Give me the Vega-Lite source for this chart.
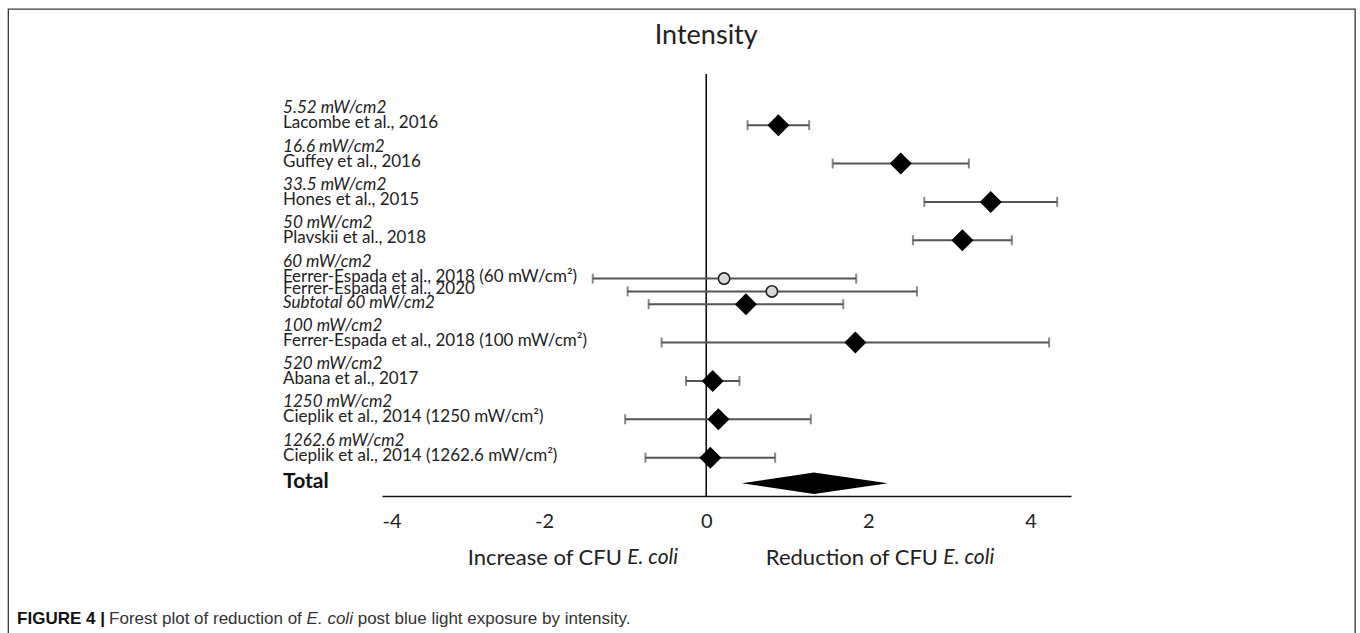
{
  "$schema": "https://vega.github.io/schema/vega-lite/v6.json",
  "width": 689,
  "height": 422,
  "autosize": {"type": "none"},
  "padding": {"left": 382, "top": 74, "right": 289, "bottom": 137},
  "background": "white",
  "config": {
    "view": {"stroke": null},
    "axisY": {"disable": true},
    "axisX": {"domainColor": "#111", "domainWidth": 1.6, "ticks": false, "grid": false, "labelFont": "Lato", "labelFontSize": 20, "labelColor": "#222", "labelPadding": 15, "title": null}
  },
  "datasets": {
    "studies": [
      {"row": 0, "heading": "5.52 mW/cm2", "study": "Lacombe et al., 2016", "est": 0.89, "lo": 0.51, "hi": 1.27, "kind": "group"},
      {"row": 3, "heading": "16.6 mW/cm2", "study": "Guffey et al., 2016", "est": 2.40, "lo": 1.56, "hi": 3.24, "kind": "group"},
      {"row": 6, "heading": "33.5 mW/cm2", "study": "Hones et al., 2015", "est": 3.51, "lo": 2.69, "hi": 4.33, "kind": "group"},
      {"row": 9, "heading": "50 mW/cm2", "study": "Plavskii et al., 2018", "est": 3.16, "lo": 2.55, "hi": 3.77, "kind": "group"},
      {"row": 12, "heading": "60 mW/cm2", "study": "Ferrer-Espada et al., 2018 (60 mW/cm²)", "est": 0.22, "lo": -1.40, "hi": 1.85, "kind": "study"},
      {"row": 13, "heading": "", "study": "Ferrer-Espada et al., 2020", "est": 0.81, "lo": -0.97, "hi": 2.60, "kind": "study"},
      {"row": 14, "heading": "", "study": "Subtotal 60 mW/cm2", "est": 0.49, "lo": -0.71, "hi": 1.69, "kind": "subtotal"},
      {"row": 17, "heading": "100 mW/cm2", "study": "Ferrer-Espada et al., 2018 (100 mW/cm²)", "est": 1.84, "lo": -0.55, "hi": 4.23, "kind": "group"},
      {"row": 20, "heading": "520 mW/cm2", "study": "Abana et al., 2017", "est": 0.08, "lo": -0.25, "hi": 0.41, "kind": "group"},
      {"row": 23, "heading": "1250 mW/cm2", "study": "Cieplik et al., 2014 (1250 mW/cm²)", "est": 0.15, "lo": -1.00, "hi": 1.29, "kind": "group"},
      {"row": 26, "heading": "1262.6 mW/cm2", "study": "Cieplik et al., 2014 (1262.6 mW/cm²)", "est": 0.05, "lo": -0.75, "hi": 0.85, "kind": "group"}
    ],
    "total": [
      {"est": 0.44, "row": 28, "row2": 28},
      {"est": 1.33, "row": 27.16, "row2": 28.84},
      {"est": 2.24, "row": 28, "row2": 28}
    ],
    "notes": [
      {"pos": -1.04, "row": 33.85, "text": "Increase of CFU", "part": "plain"},
      {"pos": -0.975, "row": 33.85, "text": "E. coli", "part": "italic"},
      {"pos": 2.86, "row": 33.85, "text": "Reduction of CFU", "part": "plain"},
      {"pos": 2.925, "row": 33.85, "text": "E. coli", "part": "italic"}
    ],
    "caption": [
      {"pos": -8.502, "row": 38.62, "text": "FIGURE 4 |", "part": "bold"},
      {"pos": -7.367, "row": 38.62, "text": "Forest plot of reduction of", "part": "plain"},
      {"pos": -4.93, "row": 38.62, "text": "E. coli", "part": "italic"},
      {"pos": -4.30, "row": 38.62, "text": "post blue light exposure by intensity.", "part": "plain"}
    ]
  },
  "data": {"name": "studies"},
  "layer": [
    {
      "data": {"values": [{"frame": "box"}]},
      "mark": {"type": "rect", "filled": false, "stroke": "#3a3a3a", "strokeWidth": 1.3, "clip": false},
      "encoding": {
        "x": {"datum": -8.61, "type": "quantitative", "scale": {"domain": [-4, 4.5], "nice": false, "zero": false}},
        "x2": {"datum": 8.006},
        "y": {"datum": -9.07, "type": "quantitative", "scale": {"domain": [-4, 29], "nice": false, "zero": false, "reverse": true}, "axis": null},
        "y2": {"datum": 40.7}
      }
    },
    {
      "data": {"values": [{"ref": 0}]},
      "mark": {"type": "rule", "color": "#111", "strokeWidth": 1.6},
      "encoding": {"x": {"field": "ref", "type": "quantitative"}}
    },
    {
      "mark": {"type": "rule", "color": "#555", "strokeWidth": 2},
      "encoding": {
        "x": {"field": "lo", "type": "quantitative", "axis": {"values": [-4, -2, 0, 2, 4], "labelExpr": "'' + datum.value", "title": null}},
        "x2": {"field": "hi"},
        "y": {"field": "row", "type": "quantitative", "axis": null}
      }
    },
    {
      "mark": {"type": "tick", "orient": "vertical", "color": "#555", "size": 10, "thickness": 2},
      "encoding": {
        "x": {"field": "lo", "type": "quantitative"},
        "y": {"field": "row", "type": "quantitative", "axis": null}
      }
    },
    {
      "mark": {"type": "tick", "orient": "vertical", "color": "#555", "size": 10, "thickness": 2},
      "encoding": {
        "x": {"field": "hi", "type": "quantitative"},
        "y": {"field": "row", "type": "quantitative", "axis": null}
      }
    },
    {
      "transform": [{"filter": "datum.kind !== 'study'"}],
      "mark": {"type": "point", "shape": "diamond", "filled": true, "color": "black", "size": 484, "opacity": 1},
      "encoding": {
        "x": {"field": "est", "type": "quantitative"},
        "y": {"field": "row", "type": "quantitative", "axis": null}
      }
    },
    {
      "transform": [{"filter": "datum.kind === 'study'"}],
      "mark": {"type": "point", "shape": "circle", "filled": true, "fill": "#d9d9d9", "stroke": "#222", "strokeWidth": 1.6, "size": 130, "opacity": 1},
      "encoding": {
        "x": {"field": "est", "type": "quantitative"},
        "y": {"field": "row", "type": "quantitative", "axis": null}
      }
    },
    {
      "data": {"name": "total"},
      "mark": {"type": "area", "color": "black", "opacity": 1},
      "encoding": {
        "x": {"field": "est", "type": "quantitative"},
        "y": {"field": "row", "type": "quantitative", "axis": null},
        "y2": {"field": "row2"}
      }
    },
    {
      "transform": [{"filter": "datum.heading !== ''"}],
      "mark": {"type": "text", "align": "left", "baseline": "middle", "font": "Lato", "fontSize": 17, "fontStyle": "italic", "color": "#222", "dy": -17},
      "encoding": {
        "x": {"datum": -5.22, "type": "quantitative"},
        "y": {"field": "row", "type": "quantitative", "axis": null},
        "text": {"field": "heading"}
      }
    },
    {
      "transform": [{"filter": "datum.kind !== 'subtotal'"}],
      "mark": {"type": "text", "align": "left", "baseline": "middle", "font": "Lato", "fontSize": 17, "color": "#222", "dy": -2},
      "encoding": {
        "x": {"datum": -5.22, "type": "quantitative"},
        "y": {"field": "row", "type": "quantitative", "axis": null},
        "text": {"field": "study"}
      }
    },
    {
      "transform": [{"filter": "datum.kind === 'subtotal'"}],
      "mark": {"type": "text", "align": "left", "baseline": "middle", "font": "Lato", "fontSize": 17, "fontStyle": "italic", "color": "#222", "dy": -1},
      "encoding": {
        "x": {"datum": -5.22, "type": "quantitative"},
        "y": {"field": "row", "type": "quantitative", "axis": null},
        "text": {"field": "study"}
      }
    },
    {
      "data": {"values": [{"label": "Total", "row": 28}]},
      "mark": {"type": "text", "align": "left", "baseline": "middle", "font": "Lato", "fontSize": 21, "fontWeight": "bold", "color": "#111", "dy": -1},
      "encoding": {
        "x": {"datum": -5.22, "type": "quantitative"},
        "y": {"field": "row", "type": "quantitative", "axis": null},
        "text": {"field": "label"}
      }
    },
    {
      "data": {"values": [{"label": "Intensity", "pos": 0, "row": -6.95}]},
      "mark": {"type": "text", "align": "center", "baseline": "middle", "font": "Lato", "fontSize": 27, "color": "#222"},
      "encoding": {
        "x": {"field": "pos", "type": "quantitative"},
        "y": {"field": "row", "type": "quantitative", "axis": null},
        "text": {"field": "label"}
      }
    },
    {
      "data": {"name": "notes"},
      "transform": [{"filter": "datum.part === 'plain'"}],
      "mark": {"type": "text", "align": "right", "baseline": "middle", "font": "Lato", "fontSize": 22, "color": "#222"},
      "encoding": {
        "x": {"field": "pos", "type": "quantitative"},
        "y": {"field": "row", "type": "quantitative", "axis": null},
        "text": {"field": "text"}
      }
    },
    {
      "data": {"name": "notes"},
      "transform": [{"filter": "datum.part === 'italic'"}],
      "mark": {"type": "text", "align": "left", "baseline": "middle", "font": "Lato", "fontSize": 21, "fontStyle": "italic", "color": "#222"},
      "encoding": {
        "x": {"field": "pos", "type": "quantitative"},
        "y": {"field": "row", "type": "quantitative", "axis": null},
        "text": {"field": "text"}
      }
    },
    {
      "data": {"name": "caption"},
      "transform": [{"filter": "datum.part === 'bold'"}],
      "mark": {"type": "text", "align": "left", "baseline": "middle", "font": "Liberation Sans", "fontSize": 17, "fontWeight": "bold", "color": "#111"},
      "encoding": {
        "x": {"field": "pos", "type": "quantitative"},
        "y": {"field": "row", "type": "quantitative", "axis": null},
        "text": {"field": "text"}
      }
    },
    {
      "data": {"name": "caption"},
      "transform": [{"filter": "datum.part === 'plain'"}],
      "mark": {"type": "text", "align": "left", "baseline": "middle", "font": "Liberation Sans", "fontSize": 17, "color": "#333"},
      "encoding": {
        "x": {"field": "pos", "type": "quantitative"},
        "y": {"field": "row", "type": "quantitative", "axis": null},
        "text": {"field": "text"}
      }
    },
    {
      "data": {"name": "caption"},
      "transform": [{"filter": "datum.part === 'italic'"}],
      "mark": {"type": "text", "align": "left", "baseline": "middle", "font": "Liberation Sans", "fontSize": 17, "fontStyle": "italic", "color": "#333"},
      "encoding": {
        "x": {"field": "pos", "type": "quantitative"},
        "y": {"field": "row", "type": "quantitative", "axis": null},
        "text": {"field": "text"}
      }
    }
  ]
}
